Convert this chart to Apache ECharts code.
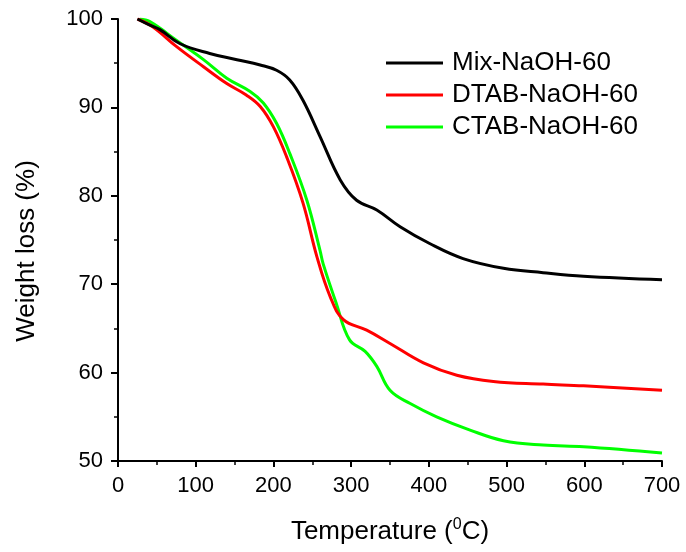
<!DOCTYPE html>
<html><head><meta charset="utf-8">
<script src="https://cdn.jsdelivr.net/npm/echarts@6/dist/echarts.min.js"></script>
<style>html,body{margin:0;padding:0;background:#fff}#c{width:686px;height:552px}</style>
</head><body><div id="c"></div>
<script>
const seriesNames = ['Mix-NaOH-60', 'DTAB-NaOH-60', 'CTAB-NaOH-60'];
const mixT = [25, 41, 54, 80, 118, 153, 183, 204, 221, 238, 260, 286, 307, 333, 363, 401, 444, 496, 547, 599, 700];
const mixW = [100, 99.3, 98.8, 97.2, 96.1, 95.4, 94.8, 94.2, 93.1, 90.8, 86.7, 81.8, 79.5, 78.4, 76.5, 74.6, 72.9, 71.8, 71.3, 70.9, 70.5];
const dtabT = [25, 45, 75, 110, 140, 165, 183, 200, 217, 238, 256, 273, 290, 320, 350, 393, 436, 483, 547, 599, 700];
const dtabW = [100, 99.1, 96.9, 94.6, 92.7, 91.4, 90.1, 87.8, 84.4, 79.2, 73.1, 68.6, 66.0, 64.8, 63.3, 61.1, 59.7, 59.0, 58.7, 58.5, 58.0];
const ctabT = [28, 41, 75, 110, 140, 170, 187, 204, 221, 243, 260, 264, 281, 298, 318, 333, 350, 376, 410, 453, 496, 547, 599, 700];
const ctabW = [100, 99.7, 97.6, 95.4, 93.3, 91.8, 90.5, 88.2, 84.8, 79.5, 73.8, 72.3, 67.8, 63.7, 62.4, 60.7, 58.0, 56.5, 55.0, 53.5, 52.3, 51.8, 51.6, 50.9];
const xTicks = [0, 700, 100];
const yTicks = [50, 100, 10];
const colors = ['#000000', '#ff0000', '#00ff00'];

const pairs = (t, w) => t.map((v, i) => [v, w[i]]);
const allData = [pairs(mixT, mixW), pairs(dtabT, dtabW), pairs(ctabT, ctabW)];
const font = 'Liberation Sans, Arial, sans-serif';

const chart = echarts.init(document.getElementById('c'), null, {renderer: 'canvas'});
chart.setOption({
  animation: false,
  grid: {left: 118, top: 19, right: 24, bottom: 91, containLabel: false},
  legend: {
    orient: 'vertical', left: 381, top: 45, itemGap: 6,
    itemWidth: 57, itemHeight: 3, icon: 'rect',
    textStyle: {fontFamily: font, fontSize: 26, color: '#000', padding: [0, 0, 0, 4]},
    data: seriesNames
  },
  xAxis: {
    type: 'value', min: xTicks[0], max: xTicks[1], interval: xTicks[2],
    name: '{a|Temperature (}{s|0}{a|C)}', nameLocation: 'middle', nameGap: 56,
    nameTextStyle: {rich: {
      a: {fontFamily: font, fontSize: 26, color: '#000'},
      s: {fontFamily: font, fontSize: 16, color: '#000', padding: [0, 0, 14, 0]}
    }},
    axisLine: {lineStyle: {color: '#000', width: 2}},
    axisTick: {inside: false, length: 6, lineStyle: {color: '#000', width: 2}},
    minorTick: {show: true, splitNumber: 2, length: 4, lineStyle: {color: '#000', width: 1.5}},
    splitLine: {show: false},
    axisLabel: {fontFamily: font, fontSize: 22, color: '#000', margin: 14}
  },
  yAxis: {
    type: 'value', min: yTicks[0], max: yTicks[1], interval: yTicks[2],
    name: 'Weight loss (%)', nameLocation: 'middle', nameGap: 78, nameRotate: 90,
    nameTextStyle: {fontFamily: font, fontSize: 26, color: '#000', padding: [0, 22, 0, 0]},
    axisLine: {show: true, lineStyle: {color: '#000', width: 2}},
    axisTick: {show: true, inside: false, length: 7, lineStyle: {color: '#000', width: 2}},
    minorTick: {show: true, splitNumber: 2, length: 4, lineStyle: {color: '#000', width: 1.5}},
    splitLine: {show: false},
    axisLabel: {fontFamily: font, fontSize: 22, color: '#000', margin: 15}
  },
  series: seriesNames.map((n, i) => ({
    name: n, type: 'line', data: allData[i], smooth: 0.4, showSymbol: false, symbol: 'none',
    lineStyle: {color: colors[i], width: 3}, itemStyle: {color: colors[i]}, z: 3 - i
  }))
});
</script></body></html>
